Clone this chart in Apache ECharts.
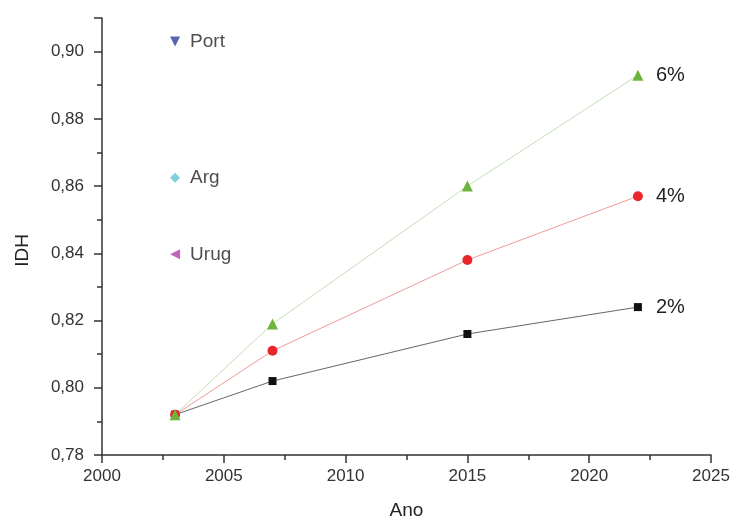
<!DOCTYPE html>
<html><head><meta charset="utf-8">
<script src="https://cdn.jsdelivr.net/npm/echarts@6/dist/echarts.min.js"></script>
<style>html,body{margin:0;padding:0;background:#fff}#c{width:733px;height:518px}</style>
</head><body><div id="c"></div>
<script>
const years = [2003, 2007, 2015, 2022];
const s2 = [0.792, 0.802, 0.816, 0.824];
const s4 = [0.792, 0.811, 0.838, 0.857];
const s6 = [0.792, 0.819, 0.860, 0.893];
const seriesNames = ['2%', '4%', '6%'];
const countryNames = ['Port', 'Arg', 'Urug'];
const countryYear = [2003, 2003, 2003];
const countryValues = [0.903, 0.8625, 0.8397];

const F = 'Liberation Sans, Arial, sans-serif';
const chart = echarts.init(document.getElementById('c'));
function lineSeries(name, vals, color, lineColor, symbol, size) {
  return {
    type: 'line', name: name,
    data: years.map((y, i) => [y, vals[i]]),
    symbol: symbol, symbolSize: size,
    itemStyle: { color: color },
    lineStyle: { color: lineColor, width: 1 },
    endLabel: { show: true, formatter: name, fontFamily: F, fontSize: 20, color: '#222', distance: 18 },
    z: 3, animation: false
  };
}
const cStyles = [
  { color: '#2f3f9f', symbol: 'triangle', rot: 180 },
  { color: '#5cc6d6', symbol: 'diamond', rot: 0 },
  { color: '#b13ea6', symbol: 'triangle', rot: 90 }
];
const countrySeries = countryNames.map((n, i) => ({
  type: 'scatter', name: n,
  data: [[countryYear[i], countryValues[i]]],
  symbol: cStyles[i].symbol, symbolRotate: cStyles[i].rot, symbolSize: 10,
  itemStyle: { color: cStyles[i].color },
  label: { show: true, position: 'right', distance: 10, formatter: n, fontFamily: F, fontSize: 19, color: '#222' },
  animation: false
}));
chart.setOption({
  animation: false,
  grid: { left: 102, right: 22, top: 18, bottom: 63, outerBoundsMode: 'none', containLabel: false },
  xAxis: {
    type: 'value', min: 2000, max: 2025, interval: 5,
    name: 'Ano', nameLocation: 'middle', nameGap: 46,
    nameTextStyle: { fontFamily: F, fontSize: 19, color: '#222' },
    axisLine: { lineStyle: { color: '#333', width: 1.5 } },
    axisTick: { length: 8, lineStyle: { color: '#333', width: 1.5 } },
    minorTick: { show: true, splitNumber: 2, length: 5, lineStyle: { color: '#333', width: 1.5 } },
    axisLabel: { fontFamily: F, fontSize: 17, color: '#333', margin: 13, formatter: v => String(v) },
    splitLine: { show: false }
  },
  yAxis: {
    type: 'value', min: 0.78, max: 0.91, interval: 0.02,
    name: 'IDH', nameLocation: 'middle', nameGap: 70,
    nameTextStyle: { fontFamily: F, fontSize: 19, color: '#222', padding: [0, 28, 0, 0] },
    axisLine: { show: true, lineStyle: { color: '#333', width: 1.5 } },
    axisTick: { show: true, length: 8, lineStyle: { color: '#333', width: 1.5 } },
    minorTick: { show: true, splitNumber: 2, length: 5, lineStyle: { color: '#333', width: 1.5 } },
    axisLabel: { fontFamily: F, fontSize: 17, color: '#333', margin: 18, showMaxLabel: false,
      formatter: v => v.toFixed(2).replace('.', ',') },
    splitLine: { show: false }
  },
  series: [
    lineSeries(seriesNames[0], s2, '#111', '#666', 'rect', 8),
    lineSeries(seriesNames[1], s4, '#e8262c', '#f19a9a', 'circle', 10),
    lineSeries(seriesNames[2], s6, '#6db43f', '#c4ddb6', 'triangle', 11)
  ].concat(countrySeries)
});
</script></body></html>
